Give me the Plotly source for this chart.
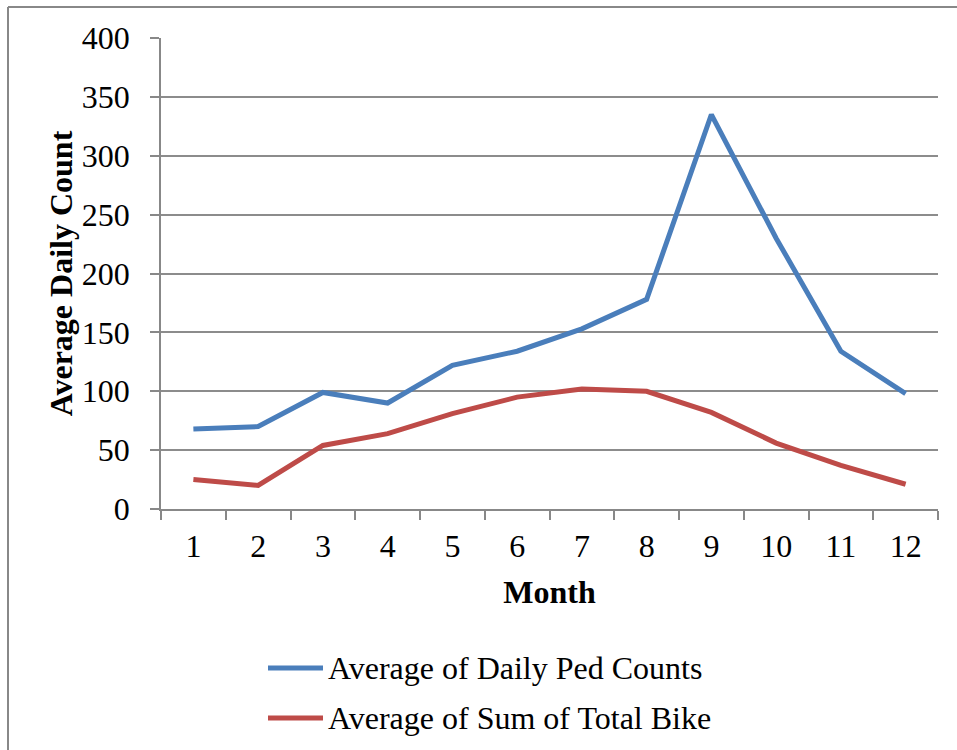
import plotly.graph_objects as go

# Monthly averages
months = ["1", "2", "3", "4", "5", "6", "7", "8", "9", "10", "11", "12"]
ped_counts = [68, 70, 99, 90, 122, 134, 153, 178, 335, 230, 134, 98]
bike_totals = [25, 20, 54, 64, 81, 95, 102, 100, 82, 56, 37, 21]

series_names = ["Average of Daily Ped Counts", "Average of Sum of Total Bike"]
series_colors = ["#4A7EBB", "#BE4B48"]
y_ticks = [0, 50, 100, 150, 200, 250, 300, 350, 400]

FONT = "Liberation Serif, Times New Roman, serif"
FS = 32
W, H = 957, 750
L, R, T, B = 161, 19, 38, 241
plot_w = W - L - R
plot_h = H - T - B

fig = go.Figure()
for name, vals, color in zip(series_names, [ped_counts, bike_totals], series_colors):
    fig.add_trace(go.Scatter(
        x=months, y=vals, mode="lines", name=name,
        line=dict(color=color, width=5),
        showlegend=False,
    ))


def px_x(p):
    return (p - L) / plot_w


def px_y(p):
    return (H - B - p) / plot_h


shapes = []
annotations = []

# outer chart border (left and top edges visible)
shapes.append(dict(type="line", xref="paper", yref="paper",
                   x0=px_x(8), x1=px_x(980), y0=px_y(7), y1=px_y(7),
                   line=dict(color="#888888", width=2)))
shapes.append(dict(type="line", xref="paper", yref="paper",
                   x0=px_x(8), x1=px_x(8), y0=px_y(7), y1=px_y(780),
                   line=dict(color="#888888", width=2)))

# legend below the axis
legend_rows = [668, 718]
for name, color, row in zip(series_names, series_colors, legend_rows):
    shapes.append(dict(type="line", xref="paper", yref="paper",
                       x0=px_x(268), x1=px_x(323), y0=px_y(row), y1=px_y(row),
                       line=dict(color=color, width=5)))
    annotations.append(dict(xref="paper", yref="paper",
                            x=px_x(326), y=px_y(row), xanchor="left", yanchor="middle",
                            text=name, showarrow=False,
                            font=dict(family=FONT, size=FS, color="black")))

fig.update_layout(
    width=W, height=H,
    margin=dict(l=L, r=R, t=T, b=B, pad=0),
    paper_bgcolor="white", plot_bgcolor="white",
    font=dict(family=FONT, size=FS, color="black"),
    shapes=shapes,
    annotations=annotations,
    xaxis=dict(
        type="category", tickson="boundaries",
        ticks="outside", ticklen=9, tickcolor="#888888", tickwidth=1.5,
        ticklabelstandoff=8,
        showline=True, linecolor="#888888", linewidth=1.5,
        showgrid=False, zeroline=False,
        tickfont=dict(family=FONT, size=FS),
        title=dict(text="<b>Month</b>", font=dict(family=FONT, size=FS), standoff=17),
        range=[-0.5, 11.5],
    ),
    yaxis=dict(
        range=[0, 400], tickvals=y_ticks,
        ticks="outside", ticklen=9, tickcolor="#888888", tickwidth=1.5,
        ticklabelstandoff=14,
        showline=True, linecolor="#888888", linewidth=1.5,
        showgrid=True, gridcolor="#8c8c8c", gridwidth=1.5,
        zeroline=False,
        tickfont=dict(family=FONT, size=FS),
        title=dict(text="<b>Average Daily Count</b>", font=dict(family=FONT, size=FS), standoff=0),
    ),
)

fig.write_html("out.html")
